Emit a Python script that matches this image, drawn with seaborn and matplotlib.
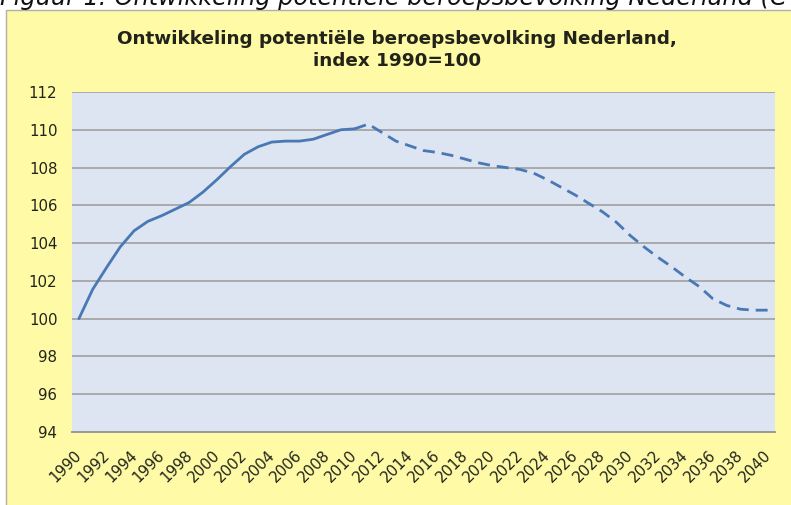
import matplotlib
matplotlib.use("Agg")
import matplotlib.pyplot as plt
import matplotlib.transforms as mtransforms
from matplotlib.patches import Rectangle
import seaborn as sns
import pandas as pd

# ---- data -------------------------------------------------------------
hist_years = list(range(1990, 2011))
hist_values = [100.0, 101.55, 102.7, 103.8, 104.65, 105.15, 105.45, 105.8, 106.15,
               106.7, 107.35, 108.05, 108.7, 109.1, 109.35, 109.4, 109.4, 109.5,
               109.75, 110.0, 110.05]
proj_years = list(range(2010, 2041))
proj_values = [110.05, 110.3, 109.85, 109.4, 109.15, 108.9, 108.8, 108.65, 108.45,
               108.25, 108.1, 108.0, 107.9, 107.7, 107.35, 106.95, 106.55, 106.1,
               105.65, 105.1, 104.4, 103.8, 103.25, 102.75, 102.2, 101.7, 101.05,
               100.7, 100.5, 100.45, 100.45]
tick_years = list(range(1990, 2041, 2))
y_ticks = list(range(94, 113, 2))

title_line1 = "Ontwikkeling potentiële beroepsbevolking Nederland,"
title_line2 = "index 1990=100"
caption_text = "Figuur 1: Ontwikkeling potentiële beroepsbevolking Nederland (C"

# ---- style ------------------------------------------------------------
sns.set_style("white")
plt.rcParams['font.family'] = ['DejaVu Sans']

YELLOW = "#FFFAA6"
PLOTBG = "#DCE5F1"
LINE = "#4A78B4"
GRID = "#9A9A9A"
TEXT = "#22241A"

W, H = 791, 505
fig = plt.figure(figsize=(W / 100, H / 100), dpi=100)
fig.patch.set_facecolor("white")

# chart frame (yellow area)
fig.add_artist(Rectangle((6 / W, -0.05), 1.2, 1 - 10 / H + 0.05,
                         transform=fig.transFigure, facecolor=YELLOW,
                         edgecolor="#B0B0A8", linewidth=1.0, zorder=0))

# caption above the chart (cut off at the top, as in the source)
fig.text(0 / W, 1 - 4.5 / H, caption_text, ha="left", va="baseline",
         fontsize=17.3, style="italic", color="#111111", zorder=2)

# title (two centred lines)
fig.text(397 / W, 1 - 44 / H, title_line1, ha="center", va="baseline",
         fontsize=13.2, fontweight="bold", color=TEXT, zorder=2)
fig.text(397 / W, 1 - 66 / H, title_line2, ha="center", va="baseline",
         fontsize=13.2, fontweight="bold", color=TEXT, zorder=2)

left, right, top, bottom = 72 / W, 775 / W, 1 - 92 / H, 1 - 432 / H
ax = fig.add_axes([left, bottom, right - left, top - bottom], zorder=1)
ax.set_facecolor(PLOTBG)

hist = pd.DataFrame({"jaar": hist_years, "index": hist_values})
proj = pd.DataFrame({"jaar": proj_years, "index": proj_values})

sns.lineplot(data=hist, x="jaar", y="index", ax=ax, color=LINE, linewidth=2.0,
             zorder=3)
sns.lineplot(data=proj, x="jaar", y="index", ax=ax, color=LINE, linewidth=2.0,
             linestyle=(0, (4.3, 2.5)), zorder=3)

ax.set_xlim(1989.5, 2040.5)
ax.set_ylim(94, 112)
ax.set_yticks(y_ticks)
ax.set_yticklabels([str(v) for v in y_ticks])
ax.set_xticks(tick_years)
ax.set_xticklabels([str(v) for v in tick_years])
ax.set_xlabel("")
ax.set_ylabel("")

ax.yaxis.grid(True, color=GRID, linewidth=1.1)
ax.xaxis.grid(False)
ax.set_axisbelow(True)
for s in ["left", "right", "top"]:
    ax.spines[s].set_visible(False)
ax.spines["bottom"].set_color(GRID)
ax.spines["bottom"].set_linewidth(1.4)

ax.tick_params(axis="y", length=0, pad=10.5, labelsize=10.8, labelcolor=TEXT)
ax.tick_params(axis="x", length=0, pad=15, labelsize=10.8, labelcolor=TEXT)

offset = mtransforms.ScaledTranslation(0.5 / 100, 0, fig.dpi_scale_trans)
for lab in ax.get_xticklabels():
    lab.set_rotation(45)
    lab.set_ha("right")
    lab.set_va("center")
    lab.set_rotation_mode("anchor")
    lab.set_transform(lab.get_transform() + offset)

fig.savefig("out.png", dpi=100, facecolor=fig.get_facecolor())
